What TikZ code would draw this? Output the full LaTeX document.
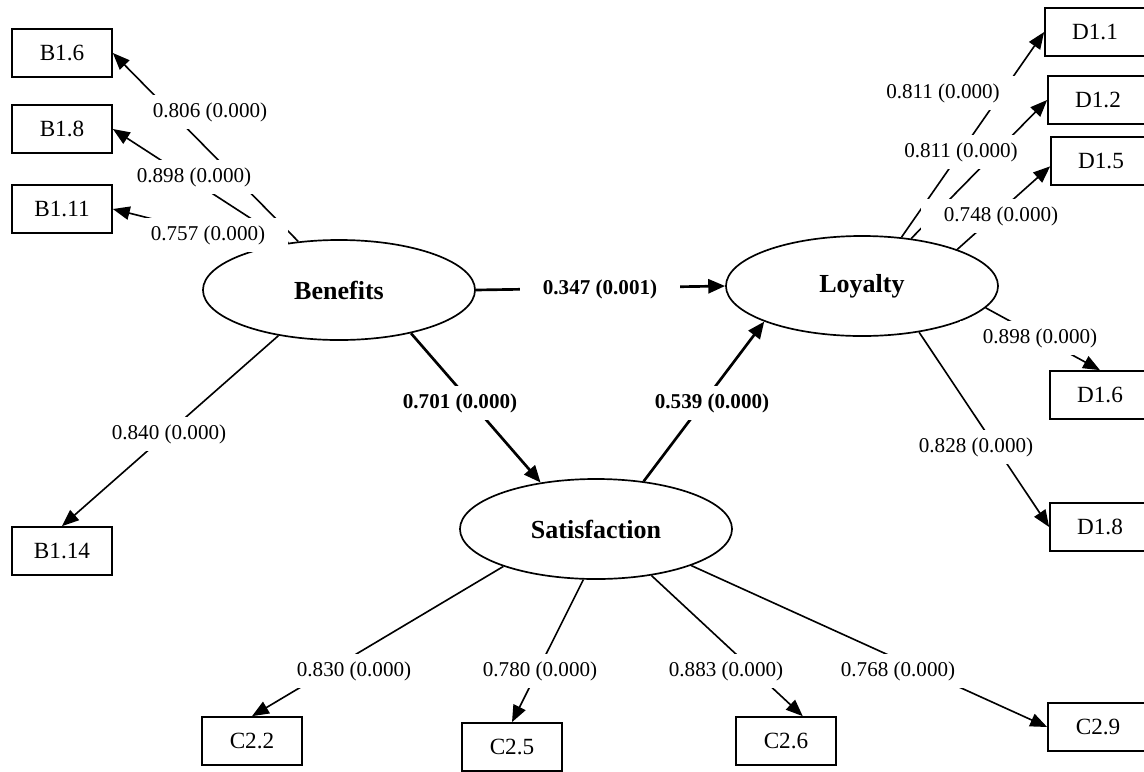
\documentclass[tikz,border=0pt]{standalone}
\usepackage{fontspec}
\setmainfont{Liberation Serif}
\usetikzlibrary{arrows.meta,shapes.geometric}
\begin{document}
\begin{tikzpicture}[x=0.025cm,y=-0.025cm,
  lat/.style={draw,ellipse,line width=1.2pt,minimum width=6.8cm,minimum height=2.5cm,inner sep=0pt,font=\fontsize{18.5}{22}\selectfont\bfseries},
  ind/.style={draw,rectangle,line width=1.2pt,minimum width=2.5cm,minimum height=1.2cm,inner sep=0pt,font=\fontsize{16.5}{20}\selectfont},
  ld/.style={line width=1.15pt,-{Triangle[length=12pt,width=9.5pt]}},
  st/.style={line width=1.9pt,-{Triangle[length=12pt,width=10pt]}},
  lab/.style={fill=white,inner xsep=0.57cm,inner ysep=0pt,minimum height=0.86cm,font=\fontsize{15}{18}\selectfont},
  blab/.style={lab,font=\fontsize{15}{18}\selectfont\bfseries}
]
\useasboundingbox (0,0) rectangle (1144,771);
\clip (0,0) rectangle (1144,771);
\fill[white] (0,0) rectangle (1144,771);

% latent variables
\node[lat] (Ben) at (339,290) {Benefits};
\node[lat] (Loy) at (862,286) {Loyalty};
\node[lat] (Sat) at (596,529) {Satisfaction};

% indicators
\node[ind] (B16) at (62,53) {B1.6};
\node[ind] (B18) at (62,129) {B1.8};
\node[ind] (B111) at (62,209) {B1.11};
\node[ind] (B114) at (62,551) {B1.14};
\node[ind] (D11) at (1095,32) {D1.1};
\node[ind] (D12) at (1098,100) {D1.2};
\node[ind] (D15) at (1101,161) {D1.5};
\node[ind] (D16) at (1100,395) {D1.6};
\node[ind] (D18) at (1100,527) {D1.8};
\node[ind] (C22) at (252,741) {C2.2};
\node[ind] (C25) at (512,747) {C2.5};
\node[ind] (C26) at (786,741) {C2.6};
\node[ind] (C29) at (1098,727) {C2.9};

% loadings
\draw[ld] (Ben.130) -- (B16.east);
\draw[ld] (Ben.137) -- (B18.east);
\draw[ld] (Ben.150) -- (B111.east);
\draw[ld] (Ben.217) -- (B114.north);
\draw[ld] (Loy.51) -- (D11.west);
\draw[ld] (Loy.44) -- (D12.west);
\draw[ld] (Loy.21) -- (D15.186);
\draw[ld] (Loy.-10) -- (D16.north);
\draw[ld] (Loy.-39) -- (D18.west);
\draw[ld] (Sat.202) -- (C22.north);
\draw[ld] (Sat.256) -- (C25.north);
\draw[ld] (Sat.-40) -- (C26.56);
\draw[ld] (Sat.-21) -- (C29.west);

% structural paths
\draw[st] (Ben.east) -- (Loy.west);
\draw[st] (Ben.-31) -- (Sat.140);
\draw[st] (Sat.45) -- (Loy.200);

% labels
\node[lab] (l806) at (210,112) {0.806 (0.000)};
\node[lab] (l898a) at (194,177) {0.898 (0.000)};
\node[lab] (l757) at (208,235) {0.757 (0.000)};
\node[lab] (l840) at (169,434) {0.840 (0.000)};
\node[blab] (l347) at (600,289) {0.347 (0.001)};
\node[blab] (l701) at (460,403) {0.701 (0.000)};
\node[blab] (l539) at (712,403) {0.539 (0.000)};
\node[lab] (l811a) at (943,93) {0.811 (0.000)};
\node[lab] (l811b) at (961,152) {0.811 (0.000)};
\node[lab] (l748) at (1001,216) {0.748 (0.000)};
\node[lab] (l898b) at (1040,338) {0.898 (0.000)};
\node[lab] (l828) at (976,447) {0.828 (0.000)};
\node[lab] (l830) at (354,671) {0.830 (0.000)};
\node[lab] (l780) at (540,671) {0.780 (0.000)};
\node[lab] (l883) at (726,671) {0.883 (0.000)};
\node[lab] (l768) at (898,671) {0.768 (0.000)};
\end{tikzpicture}
\end{document}
